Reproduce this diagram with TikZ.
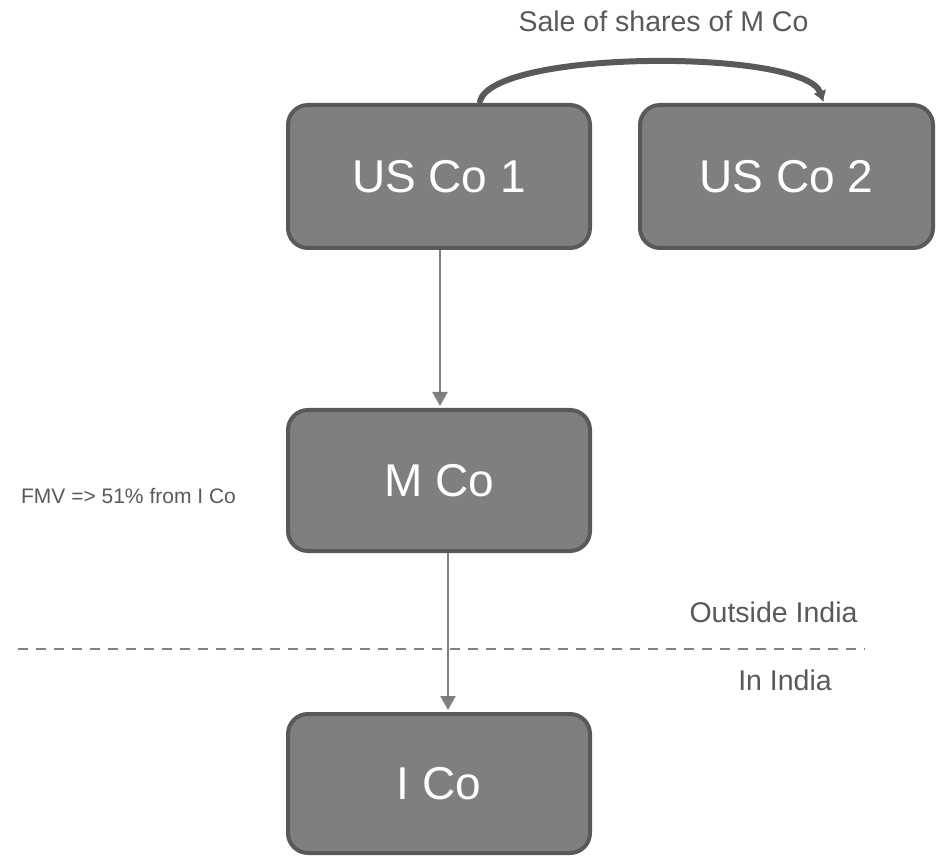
\documentclass[tikz,border=0pt]{standalone}
\usepackage{fontspec}
\setmainfont{Liberation Sans}
\usetikzlibrary{arrows.meta}
\definecolor{boxfill}{HTML}{7F7F7F}
\definecolor{boxedge}{HTML}{595959}
\definecolor{labelgray}{HTML}{595959}
\definecolor{linkgray}{HTML}{7F7F7F}
\tikzset{
  entity/.style={draw=boxedge, fill=boxfill, line width=4pt, rounded corners=20pt,
    text=white, font=\fontsize{46}{50}\selectfont, inner sep=0pt},
  owns/.style={draw=linkgray, line width=2pt, -{Triangle[width=15pt,length=14pt]}},
  transfer/.style={draw=boxedge, line width=6pt, line cap=round,
    -{Latex[length=11pt,width=14pt]}},
  border/.style={draw=linkgray, line width=2pt, dash pattern=on 10pt off 8pt},
  note/.style={text=labelgray, inner sep=0pt, anchor=base},
}
\begin{document}
\begin{tikzpicture}[x=1pt,y=-1pt]
  \useasboundingbox (0,0) rectangle (937,858);

  % companies
  \node[entity, minimum width=302pt, minimum height=143pt] (us1) at (439,176.5) {US Co 1};
  \node[entity, minimum width=293pt, minimum height=143pt] (us2) at (786.5,176.5) {US Co 2};
  \node[entity, minimum width=302pt, minimum height=141pt] (mco) at (439,480.5) {M Co};
  \node[entity, minimum width=302pt, minimum height=139pt] (ico) at (439,783.5) {I Co};

  % ownership chain
  \draw[owns] ([xshift=1pt]us1.south) -- ([xshift=1pt,yshift=2pt]mco.north);
  \draw[owns] ([xshift=9pt]mco.south) -- ([xshift=9pt,yshift=2pt]ico.north);

  % share sale between the US companies
  \draw[transfer] ([xshift=41pt,yshift=2pt]us1.north)
    .. controls (495,49) and (805,49) .. ([xshift=37pt,yshift=1pt]us2.north);

  % jurisdiction boundary
  \coordinate (bl) at (18,649);
  \coordinate (br) at (865,649);
  \draw[border] (bl) -- (br);

  % labels
  \node[note, font=\fontsize{28.5}{32}\selectfont] (sale) at (663.5,32) {Sale of shares of M Co};
  \node[note, font=\fontsize{28.5}{32}\selectfont] (outside) at (773.5,622) {Outside India};
  \node[note, font=\fontsize{28.5}{32}\selectfont] (inside) at (785,690) {In India};
  \node[note, font=\fontsize{21}{24}\selectfont] (fmv) at (128.5,503) {FMV => 51\% from I Co};
\end{tikzpicture}
\end{document}
